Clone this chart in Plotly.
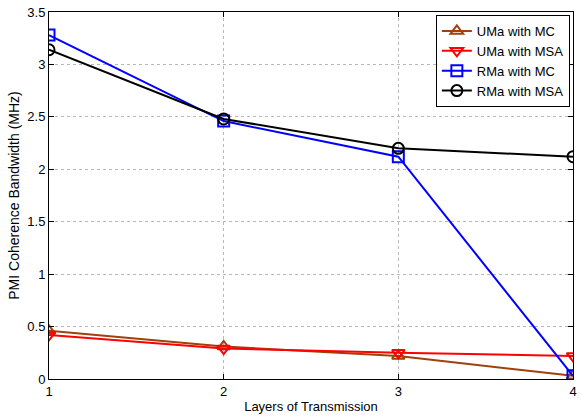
import plotly.graph_objects as go

layers = [1, 2, 3, 4]
uma_mc = [0.46, 0.31, 0.22, 0.03]
uma_msa = [0.42, 0.29, 0.25, 0.22]
rma_mc = [3.28, 2.46, 2.12, 0.03]
rma_msa = [3.14, 2.48, 2.20, 2.12]

series = [
    ("UMa with MC", uma_mc, "#A0400A", "triangle-up-open"),
    ("UMa with MSA", uma_msa, "#FF0000", "triangle-down-open"),
    ("RMa with MC", rma_mc, "#0000FF", "square-open"),
    ("RMa with MSA", rma_msa, "#000000", "circle-open"),
]

fig = go.Figure()
for name, vals, col, sym in series:
    fig.add_trace(go.Scatter(
        x=layers, y=vals, name=name, mode="lines+markers",
        line=dict(color=col, width=2),
        marker=dict(symbol=sym, size=11, color=col, line=dict(width=2, color=col)),
    ))

font = "Liberation Sans, Arial, sans-serif"
axis_common = dict(
    showline=True, linecolor="black", linewidth=1, mirror="ticks",
    ticks="inside", ticklen=5, tickcolor="black",
    showgrid=True, gridcolor="#b8b8b8", griddash="dot", gridwidth=1,
    zeroline=False, tickfont=dict(family=font, size=13, color="black"),
)
fig.update_layout(
    width=582, height=417,
    margin=dict(l=49, r=5, t=11, b=38),
    plot_bgcolor="white", paper_bgcolor="white",
    font=dict(family=font, color="black"),
    xaxis=dict(range=[1, 4], tickvals=[1, 2, 3, 4],
               title=dict(text="Layers of Transmission", font=dict(size=13), standoff=4),
               **axis_common),
    yaxis=dict(range=[0, 3.5], tickvals=[0, 0.5, 1, 1.5, 2, 2.5, 3, 3.5],
               ticktext=["0", "0.5", "1", "1.5", "2", "2.5", "3", "3.5"],
               title=dict(text="PMI Coherence Bandwidth (MHz)", font=dict(size=14), standoff=4),
               **axis_common),
    legend=dict(x=0.994, y=0.992, xanchor="right", yanchor="top",
                bgcolor="white", bordercolor="black", borderwidth=1,
                font=dict(family=font, size=13), tracegroupgap=0,
                itemwidth=30),
)
fig.write_html("out.html")
